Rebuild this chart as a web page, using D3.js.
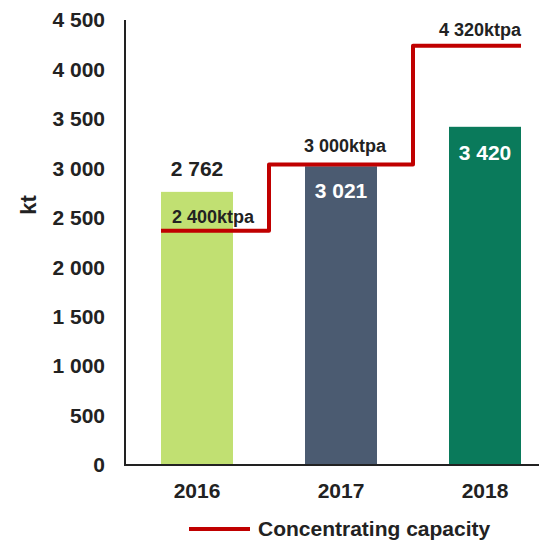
<!DOCTYPE html>
<meta charset="utf-8">
<style>
body { margin: 0; background: #fff; }
text { font-family: "Liberation Sans", Arial, sans-serif; font-weight: bold; fill: #222; }
</style>
<svg width="539" height="540"></svg>
<script src="https://d3js.org/d3.v7.min.js"></script>
<script>

var years = ["2016", "2017", "2018"];
var output = [2762, 3021, 3420];
var barColors = ["#c1e072", "#4b5b71", "#0a7a5b"];
// capacity step line, as drawn, and its labels
var capacity = [2370, 3040, 4240];
var capacityLabels = ["2 400ktpa", "3 000ktpa", "4 320ktpa"];
var yTicks = [0, 500, 1000, 1500, 2000, 2500, 3000, 3500, 4000, 4500];

var svg = d3.select("svg");

var x = d3.scaleBand()
    .domain(years)
    .range([125, 557])
    .paddingInner(0.5)
    .paddingOuter(0.25);

var y = d3.scaleLinear()
    .domain([0, 4500])
    .range([465, 20]);

var fmt = function(v) { return d3.format(",")(v).replace(/,/g, " "); };

// bars
svg.append("g").selectAll("rect")
    .data(output)
    .enter().append("rect")
      .attr("x", function(d, i) { return x(years[i]); })
      .attr("y", function(d) { return y(d); })
      .attr("width", x.bandwidth())
      .attr("height", function(d) { return y(0) - y(d); })
      .attr("fill", function(d, i) { return barColors[i]; });

// axes
svg.append("line")
    .attr("x1", 125).attr("x2", 125)
    .attr("y1", y(4500)).attr("y2", y(0))
    .attr("stroke", "#222").attr("stroke-width", 2);
svg.append("line")
    .attr("x1", 124).attr("x2", 539)
    .attr("y1", y(0)).attr("y2", y(0))
    .attr("stroke", "#222").attr("stroke-width", 2);

svg.append("g").selectAll("text")
    .data(yTicks)
    .enter().append("text")
      .attr("x", 105)
      .attr("y", function(d) { return y(d); })
      .attr("dy", "0.35em")
      .attr("text-anchor", "end")
      .attr("font-size", 21)
      .text(fmt);

svg.append("g").selectAll("text")
    .data(years)
    .enter().append("text")
      .attr("x", function(d) { return x(d) + x.bandwidth() / 2; })
      .attr("y", 491)
      .attr("dy", "0.35em")
      .attr("text-anchor", "middle")
      .attr("font-size", 21)
      .text(function(d) { return d; });

svg.append("text")
    .attr("transform", "translate(28,205) rotate(-90)")
    .attr("text-anchor", "middle")
    .attr("dy", "0.35em")
    .attr("font-size", 22)
    .text("kt");

// step line
var half = (x.step() - x.bandwidth()) / 2;
var pts = [];
years.forEach(function(yr, i) {
  var x0 = i === 0 ? x(yr) : x(yr) - half;
  var x1 = i === years.length - 1 ? x(yr) + x.bandwidth() : x(yr) + x.bandwidth() + half;
  pts.push([x0, y(capacity[i])]);
  pts.push([x1, y(capacity[i])]);
});
svg.append("path")
    .attr("d", d3.line()(pts))
    .attr("fill", "none")
    .attr("stroke", "#c00000")
    .attr("stroke-width", 4)
    .attr("stroke-linejoin", "round");

// bar value labels
var valueLabel = [
  { dy: -23, fill: "#222" },
  { dy: 24, fill: "#fff" },
  { dy: 26, fill: "#fff" }
];
svg.append("g").selectAll("text")
    .data(output)
    .enter().append("text")
      .attr("x", function(d, i) { return x(years[i]) + x.bandwidth() / 2; })
      .attr("y", function(d, i) { return y(d) + valueLabel[i].dy; })
      .attr("dy", "0.35em")
      .attr("text-anchor", "middle")
      .attr("font-size", 21)
      .style("fill", function(d, i) { return valueLabel[i].fill; })
      .text(fmt);

// capacity labels
var capX = [213, 345, 480];
var capDy = [-14, -19, -16];
svg.append("g").selectAll("text")
    .data(capacityLabels)
    .enter().append("text")
      .attr("x", function(d, i) { return capX[i]; })
      .attr("y", function(d, i) { return y(capacity[i]) + capDy[i]; })
      .attr("dy", "0.35em")
      .attr("text-anchor", "middle")
      .attr("font-size", 18)
      .text(function(d) { return d; });

// legend
svg.append("line")
    .attr("x1", 189).attr("x2", 250)
    .attr("y1", 529).attr("y2", 529)
    .attr("stroke", "#c00000").attr("stroke-width", 4);
svg.append("text")
    .attr("x", 258)
    .attr("y", 529)
    .attr("dy", "0.35em")
    .attr("font-size", 21)
    .text("Concentrating capacity");

</script>
